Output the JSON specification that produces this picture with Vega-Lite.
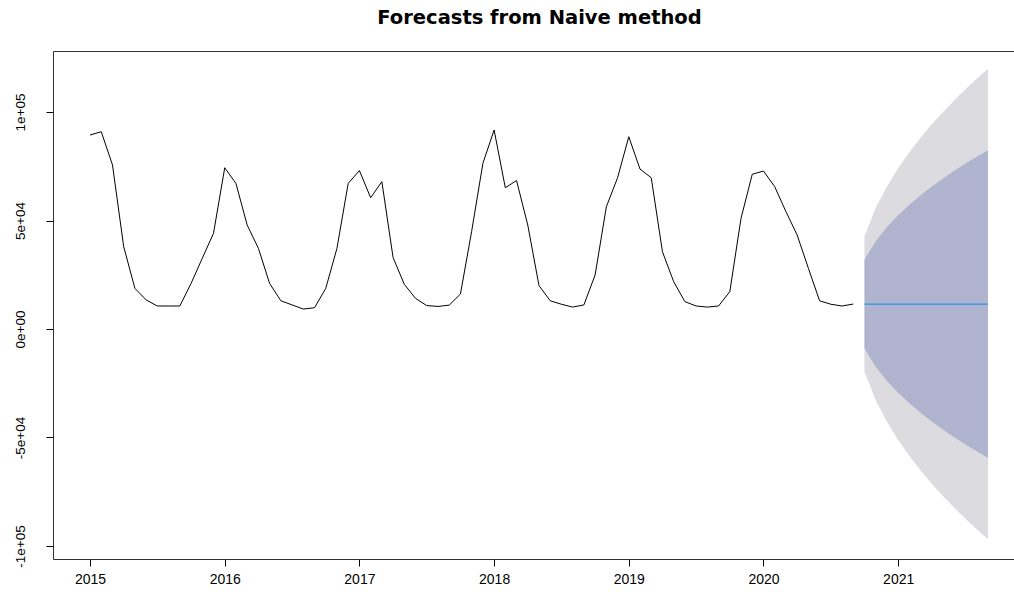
{
  "$schema": "https://vega.github.io/schema/vega-lite/v6.json",
  "autosize": "none",
  "width": 961,
  "height": 508,
  "padding": {"left": 53, "top": 51, "right": 0, "bottom": 33},
  "background": "white",
  "config": {"view": {"stroke": null}, "font": "Liberation Sans"},
  "title": {"text": "Forecasts from Naive method", "font": "DejaVu Sans", "fontSize": 19.5, "fontWeight": "bold", "color": "#000", "anchor": "middle", "baseline": "alphabetic", "offset": 8, "dx": 6},
  "datasets": {
    "obs": [
      {"t": 2015.0, "value": 89400}, {"t": 2015.0833, "value": 90900}, {"t": 2015.1667, "value": 75600},
      {"t": 2015.25, "value": 37900}, {"t": 2015.3333, "value": 18700}, {"t": 2015.4167, "value": 13400},
      {"t": 2015.5, "value": 10600}, {"t": 2015.5833, "value": 10600}, {"t": 2015.6667, "value": 10600},
      {"t": 2015.75, "value": 21000}, {"t": 2015.8333, "value": 32600}, {"t": 2015.9167, "value": 44100},
      {"t": 2016.0, "value": 74300}, {"t": 2016.0833, "value": 67100}, {"t": 2016.1667, "value": 47900},
      {"t": 2016.25, "value": 37200}, {"t": 2016.3333, "value": 21000}, {"t": 2016.4167, "value": 13000},
      {"t": 2016.5, "value": 11100}, {"t": 2016.5833, "value": 9200}, {"t": 2016.6667, "value": 9800},
      {"t": 2016.75, "value": 18700}, {"t": 2016.8333, "value": 37200}, {"t": 2016.9167, "value": 67100},
      {"t": 2017.0, "value": 73000}, {"t": 2017.0833, "value": 60500}, {"t": 2017.1667, "value": 67900},
      {"t": 2017.25, "value": 32900}, {"t": 2017.3333, "value": 20600}, {"t": 2017.4167, "value": 14100},
      {"t": 2017.5, "value": 10800}, {"t": 2017.5833, "value": 10400}, {"t": 2017.6667, "value": 11000},
      {"t": 2017.75, "value": 16100}, {"t": 2017.8333, "value": 45000}, {"t": 2017.9167, "value": 76300},
      {"t": 2018.0, "value": 91700}, {"t": 2018.0833, "value": 65100}, {"t": 2018.1667, "value": 68400},
      {"t": 2018.25, "value": 47900}, {"t": 2018.3333, "value": 20000}, {"t": 2018.4167, "value": 13000},
      {"t": 2018.5, "value": 11400}, {"t": 2018.5833, "value": 10100}, {"t": 2018.6667, "value": 11100},
      {"t": 2018.75, "value": 24900}, {"t": 2018.8333, "value": 56300}, {"t": 2018.9167, "value": 69700},
      {"t": 2019.0, "value": 88600}, {"t": 2019.0833, "value": 73700}, {"t": 2019.1667, "value": 69700},
      {"t": 2019.25, "value": 35600}, {"t": 2019.3333, "value": 21800}, {"t": 2019.4167, "value": 12600},
      {"t": 2019.5, "value": 10600}, {"t": 2019.5833, "value": 10100}, {"t": 2019.6667, "value": 10600},
      {"t": 2019.75, "value": 17200}, {"t": 2019.8333, "value": 51000}, {"t": 2019.9167, "value": 71300},
      {"t": 2020.0, "value": 72800}, {"t": 2020.0833, "value": 65600}, {"t": 2020.1667, "value": 54100},
      {"t": 2020.25, "value": 43300}, {"t": 2020.3333, "value": 28000}, {"t": 2020.4167, "value": 13000},
      {"t": 2020.5, "value": 11400}, {"t": 2020.5833, "value": 10600}, {"t": 2020.6667, "value": 11500}
    ],
    "fc": [
      {"t": 2020.75, "mean": 11500, "lo80": -8967, "hi80": 31967, "lo95": -19801, "hi95": 42801},
      {"t": 2020.8333, "mean": 11500, "lo80": -17445, "hi80": 40445, "lo95": -32767, "hi95": 55767},
      {"t": 2020.9167, "mean": 11500, "lo80": -23949, "hi80": 46949, "lo95": -42714, "hi95": 65714},
      {"t": 2021.0, "mean": 11500, "lo80": -29434, "hi80": 52434, "lo95": -51102, "hi95": 74102},
      {"t": 2021.0833, "mean": 11500, "lo80": -34266, "hi80": 57266, "lo95": -58492, "hi95": 81492},
      {"t": 2021.1667, "mean": 11500, "lo80": -38634, "hi80": 61634, "lo95": -65171, "hi95": 88171},
      {"t": 2021.25, "mean": 11500, "lo80": -42651, "hi80": 65651, "lo95": -71316, "hi95": 94316},
      {"t": 2021.3333, "mean": 11500, "lo80": -46390, "hi80": 69390, "lo95": -77033, "hi95": 100033},
      {"t": 2021.4167, "mean": 11500, "lo80": -49901, "hi80": 72901, "lo95": -82404, "hi95": 105404},
      {"t": 2021.5, "mean": 11500, "lo80": -53223, "hi80": 76223, "lo95": -87484, "hi95": 110484},
      {"t": 2021.5833, "mean": 11500, "lo80": -56381, "hi80": 79381, "lo95": -92313, "hi95": 115313},
      {"t": 2021.6667, "mean": 11500, "lo80": -59401, "hi80": 82401, "lo95": -96931, "hi95": 119931}
    ]
  },
  "resolve": {"axis": {"x": "independent"}},
  "layer": [
    {
      "data": {"name": "fc"},
      "mark": {"type": "area", "color": "#DBDBE0", "opacity": 1},
      "encoding": {
        "x": {"field": "t", "type": "quantitative", "scale": {"domain": [2014.725, 2021.86], "nice": false, "zero": false},
              "axis": {"orient": "bottom", "values": [2015, 2016, 2017, 2018, 2019, 2020, 2021], "format": "d", "title": null, "grid": false,
                       "tickSize": 7, "tickColor": "#000", "domainColor": "#333", "labelFontSize": 14, "labelColor": "#000", "labelPadding": 6, "labelFont": "Liberation Sans", "labelFlush": false}},
        "y": {"field": "lo95", "type": "quantitative", "scale": {"domain": [-105991, 128111], "nice": false, "zero": false},
              "axis": {"values": [-100000, -50000, 0, 50000, 100000], "title": null, "grid": false, "tickSize": 7, "tickColor": "#000", "domainColor": "#333",
                       "labelExpr": "datum.value == 100000 ? '1e+05' : datum.value == 50000 ? '5e+04' : datum.value == 0 ? '0e+00' : datum.value == -50000 ? '-5e+04' : '-1e+05'",
                       "labelAngle": -90, "labelAlign": "center", "labelBaseline": "bottom", "labelPadding": 19, "labelFontSize": 13.5, "labelColor": "#000", "labelFont": "Liberation Sans", "labelFlush": false}},
        "y2": {"field": "hi95"}
      }
    },
    {
      "data": {"name": "fc"},
      "mark": {"type": "area", "color": "#B0B4CF", "opacity": 1},
      "encoding": {
        "x": {"field": "t", "type": "quantitative",
              "axis": {"orient": "top", "labels": false, "ticks": false, "title": null, "grid": false, "domainColor": "#333"}},
        "y": {"field": "lo80", "type": "quantitative"},
        "y2": {"field": "hi80"}
      }
    },
    {
      "data": {"name": "obs"},
      "mark": {"type": "line", "color": "#000", "strokeWidth": 1},
      "encoding": {
        "x": {"field": "t", "type": "quantitative", "axis": null},
        "y": {"field": "value", "type": "quantitative"}
      }
    },
    {
      "data": {"name": "fc"},
      "mark": {"type": "line", "color": "#2297E6", "strokeWidth": 1.3},
      "encoding": {
        "x": {"field": "t", "type": "quantitative", "axis": null},
        "y": {"field": "mean", "type": "quantitative"}
      }
    }
  ]
}
